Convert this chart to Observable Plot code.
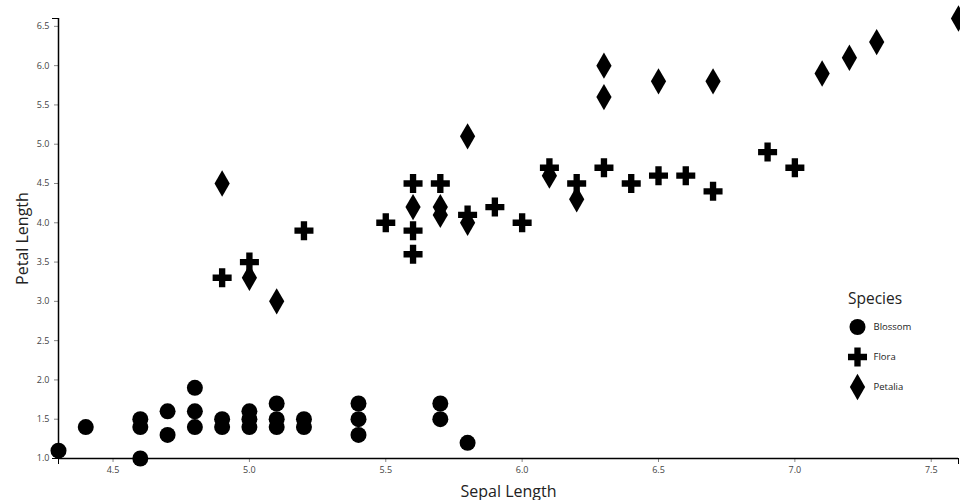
<!DOCTYPE html>
<html>
<head>
<meta charset="utf-8">
<script src="https://cdn.jsdelivr.net/npm/d3@7"></script>
<script src="https://cdn.jsdelivr.net/npm/@observablehq/plot@0.6"></script>
<style>
  html, body { margin: 0; padding: 0; background: #fff; }
  #chart { position: relative; width: 960px; height: 500px; font-family: "Open Sans", sans-serif; }
  #chart svg { overflow: visible; }
</style>
</head>
<body>
<div id="chart"></div>
<script>
// ---- data ----
const species = ["Blossom", "Flora", "Petalia"];
const symbols = ["circle", "cross", "diamond"];

const blossomSepal = [4.3,4.4,4.6,4.6,4.6,4.7,4.7,4.8,4.8,4.8,4.9,4.9,5.0,5.0,5.0,5.1,5.1,5.1,5.2,5.2,5.4,5.4,5.4,5.7,5.7,5.8];
const blossomPetal = [1.1,1.4,1.5,1.4,1.0,1.6,1.3,1.9,1.6,1.4,1.5,1.4,1.6,1.5,1.4,1.7,1.5,1.4,1.5,1.4,1.7,1.5,1.3,1.7,1.5,1.2];

const floraSepal = [4.9,5.0,5.2,5.5,5.6,5.6,5.6,5.7,5.8,5.9,6.0,6.1,6.2,6.3,6.4,6.5,6.6,6.7,6.9,7.0];
const floraPetal = [3.3,3.5,3.9,4.0,4.5,3.9,3.6,4.5,4.1,4.2,4.0,4.7,4.5,4.7,4.5,4.6,4.6,4.4,4.9,4.7];

const petaliaSepal = [4.9,5.0,5.1,5.6,5.7,5.7,5.8,5.8,6.1,6.2,6.3,6.3,6.5,6.7,7.1,7.2,7.3,7.6];
const petaliaPetal = [4.5,3.3,3.0,4.2,4.2,4.1,5.1,4.0,4.6,4.3,6.0,5.6,5.8,5.8,5.9,6.1,6.3,6.6];

const xDomain = [4.3, 7.6];
const yDomain = [1.0, 6.6];
const xTicks = [4.5, 5.0, 5.5, 6.0, 6.5, 7.0, 7.5];
const yTicks = [1.0, 1.5, 2.0, 2.5, 3.0, 3.5, 4.0, 4.5, 5.0, 5.5, 6.0, 6.5];

const xLabel = "Sepal Length";
const yLabel = "Petal Length";
const legendTitle = "Species";

// ---- build table ----
const rows = [];
[[blossomSepal, blossomPetal], [floraSepal, floraPetal], [petaliaSepal, petaliaPetal]].forEach(([xs, ys], i) => {
  xs.forEach((x, j) => rows.push({ sepal: x, petal: ys[j], species: species[i] }));
});

const fmt = d3.format(".1f");
const R = 8;

const plot = Plot.plot({
  width: 960,
  height: 500,
  marginTop: 18,
  marginLeft: 58,
  marginRight: 2,
  marginBottom: 42,
  style: { fontFamily: "Open Sans, sans-serif", background: "transparent", overflow: "visible" },
  x: { domain: xDomain },
  y: { domain: yDomain },
  symbol: { domain: species, range: symbols },
  marks: [
    Plot.axisX({ ticks: xTicks, tickFormat: fmt, tickSize: 4, tickPadding: 4, fontSize: 9, stroke: "#888", fill: "#444", label: null }),
    Plot.axisY({ ticks: yTicks, tickFormat: fmt, tickSize: 4, tickPadding: 5, fontSize: 9, stroke: "#888", fill: "#444", label: null }),
    Plot.axisX({ ticks: xDomain, tickFormat: () => "", tickSize: 6, stroke: "#000", label: null }),
    Plot.axisY({ ticks: yDomain, tickFormat: () => "", tickSize: 6, stroke: "#000", label: null }),
    Plot.ruleY([yDomain[0]], { stroke: "#000", strokeWidth: 1.5 }),
    Plot.ruleX([xDomain[0]], { stroke: "#000", strokeWidth: 1.5 }),
    Plot.text([xLabel], { frameAnchor: "bottom", dy: 33, lineAnchor: "middle", textAnchor: "middle", fontSize: 16, fill: "#222" }),
    Plot.text([yLabel], { frameAnchor: "left", dx: -36, rotate: -90, lineAnchor: "middle", textAnchor: "middle", fontSize: 16, fill: "#222" }),
    Plot.dot(rows, { x: "sepal", y: "petal", symbol: "species", r: R, fill: "#000", stroke: null })
  ]
});

document.getElementById("chart").appendChild(plot);

// ---- legend (built from the plot's symbol scale) ----
const sym = plot.scale("symbol");
const svg = d3.select(plot);
const lg = svg.append("g").attr("transform", "translate(848,285)")
  .attr("font-family", "Open Sans, sans-serif")
  .attr("text-anchor", "start");
lg.append("text").attr("x", 0).attr("y", 19).attr("font-size", 15.5).attr("fill", "#222")
  .attr("text-anchor", "start").text(legendTitle);
sym.domain.forEach((name, i) => {
  const g = lg.append("g").attr("transform", `translate(9.5,${42 + i * 30})`);
  g.append("path").attr("d", d3.symbol(sym.range[i], Math.PI * R * R)()).attr("fill", "#000");
  g.append("text").attr("x", 16).attr("dy", "0.32em").attr("font-size", 9.5).attr("fill", "#222")
    .attr("text-anchor", "start").text(name);
});
</script>
</body>
</html>
